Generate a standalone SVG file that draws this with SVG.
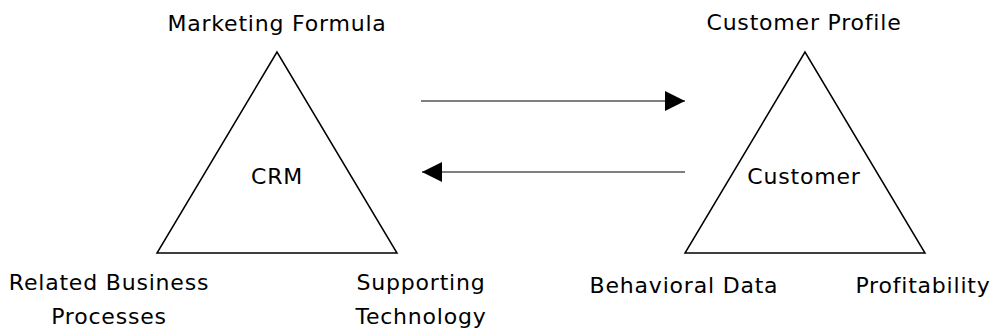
<svg xmlns="http://www.w3.org/2000/svg" width="999" height="333" viewBox="0 0 999 333">
<style>
.tri{fill:none;stroke:#000;stroke-width:1.5;stroke-linejoin:miter}
.lbl{font-family:"DejaVu Sans","Liberation Sans",sans-serif;font-size:22px;letter-spacing:0.8px;fill:#000;text-anchor:middle}
.conn{stroke:#555;stroke-width:1.5;fill:none}
</style>
<defs>
<marker id="ah" viewBox="0 0 20 20" refX="20" refY="10" markerWidth="20" markerHeight="20" markerUnits="userSpaceOnUse" orient="auto">
<path d="M0,0 L20,10 L0,20 Z" fill="#000"/>
</marker>
</defs>
<rect width="999" height="333" fill="#fff"/>
<g id="crm">
<polygon class="tri" points="277,52 157,253 397,253"/>
<text class="lbl" x="277" y="184">CRM</text>
<text class="lbl" x="277" y="31">Marketing Formula</text>
<text class="lbl" x="109" y="290">Related Business</text>
<text class="lbl" x="109" y="324">Processes</text>
<text class="lbl" x="421" y="290">Supporting</text>
<text class="lbl" x="421" y="324">Technology</text>
</g>
<g id="customer">
<polygon class="tri" points="805,52 685,253 925,253"/>
<text class="lbl" x="804" y="184">Customer</text>
<text class="lbl" x="804" y="30">Customer Profile</text>
<text class="lbl" x="684" y="293">Behavioral Data</text>
<text class="lbl" x="923" y="293">Profitability</text>
</g>
<g id="connectors">
<line class="conn" x1="421" y1="101" x2="685" y2="101" marker-end="url(#ah)"/>
<line class="conn" x1="685" y1="172" x2="422" y2="172" marker-end="url(#ah)"/>
</g>
</svg>
